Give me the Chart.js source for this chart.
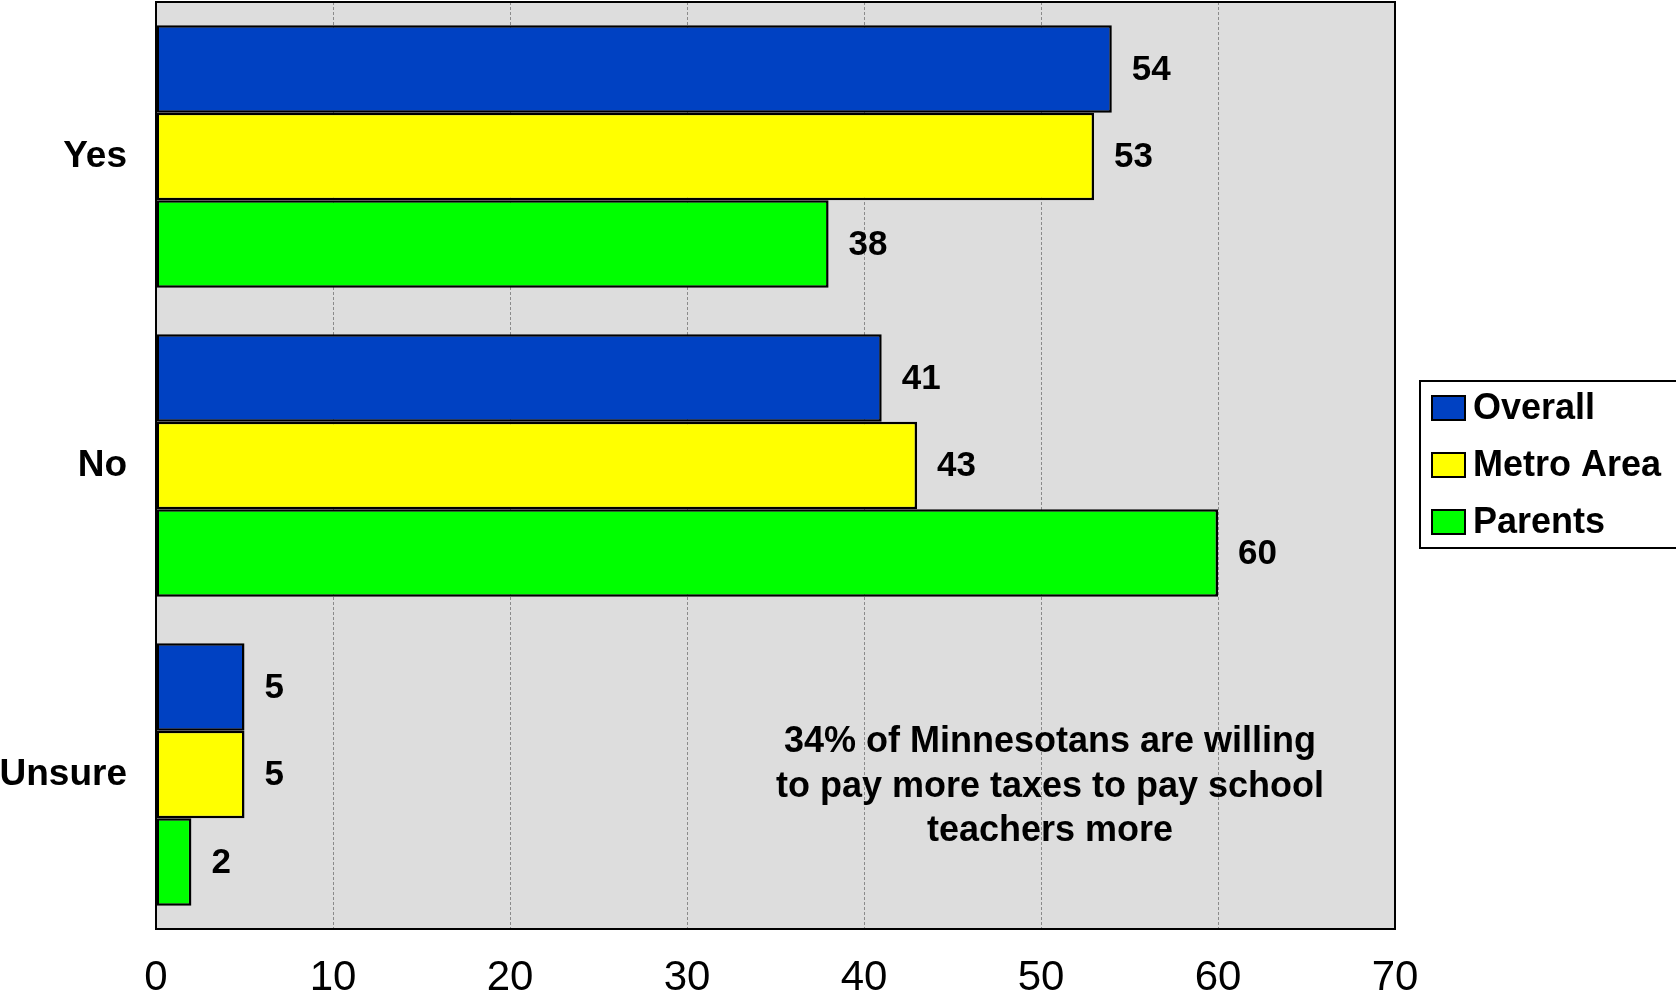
<!DOCTYPE html>
<html>
<head>
<meta charset="utf-8">
<script src="https://cdn.jsdelivr.net/npm/chart.js@4/dist/chart.umd.min.js"></script>
<style>
html,body{margin:0;padding:0;background:#fff;}
#wrap{width:1676px;height:994px;position:relative;}
</style>
</head>
<body>
<div id="wrap"><canvas id="c" width="1676" height="994"></canvas></div>
<script>
const categories = ["Yes", "No", "Unsure"];
const overall = [54, 41, 5];
const metroArea = [53, 43, 5];
const parents = [38, 60, 2];
const seriesNames = ["Overall", "Metro Area", "Parents"];
const seriesColors = ["#0041C2", "#FFFF00", "#00FF00"];
const xTicks = [0, 10, 20, 30, 40, 50, 60, 70];
const noteLines = ["34% of Minnesotans are willing", "to pay more taxes to pay school", "teachers more"];

const FONT = "'Liberation Sans', Arial, sans-serif";

const framePlugin = {
  id: 'frame',
  beforeDraw(chart) {
    const {ctx, chartArea: a} = chart;
    ctx.save();
    ctx.fillStyle = '#DDDDDD';
    ctx.fillRect(a.left, a.top, a.right - a.left, a.bottom - a.top);
    ctx.restore();
  },
  afterDraw(chart) {
    const {ctx, chartArea: a} = chart;
    ctx.save();
    ctx.strokeStyle = '#000';
    ctx.lineWidth = 2;
    ctx.strokeRect(a.left, a.top, a.right - a.left, a.bottom - a.top);
    // legend
    ctx.fillStyle = '#fff';
    ctx.fillRect(1420, 381, 270, 167);
    ctx.strokeRect(1420, 381, 270, 167);
    const rows = [408, 465, 522];
    ctx.font = "bold 36px " + FONT;
    ctx.textBaseline = 'middle';
    ctx.textAlign = 'left';
    seriesNames.forEach((n, i) => {
      ctx.fillStyle = seriesColors[i];
      ctx.fillRect(1432, rows[i] - 12, 33, 24);
      ctx.strokeStyle = '#000';
      ctx.lineWidth = 2;
      ctx.strokeRect(1432, rows[i] - 12, 33, 24);
      ctx.fillStyle = '#000';
      ctx.fillText(n, 1473, rows[i] + 1);
    });
    // annotation
    ctx.font = "bold 36px " + FONT;
    ctx.textAlign = 'center';
    const ly = [742, 787, 831];
    noteLines.forEach((t, i) => ctx.fillText(t, 1050, ly[i]));
    ctx.restore();
  },
  afterDatasetsDraw(chart) {
    const {ctx} = chart;
    ctx.save();
    ctx.font = "bold 35px " + FONT;
    ctx.fillStyle = '#000';
    ctx.textAlign = 'left';
    ctx.textBaseline = 'middle';
    chart.data.datasets.forEach((ds, di) => {
      const meta = chart.getDatasetMeta(di);
      meta.data.forEach((el, i) => {
        ctx.fillText(String(ds.data[i]), el.x + 20, el.y + 1);
      });
    });
    ctx.restore();
  }
};

new Chart(document.getElementById('c'), {
  type: 'bar',
  data: {
    labels: categories,
    datasets: [
      {label: seriesNames[0], data: overall, backgroundColor: seriesColors[0]},
      {label: seriesNames[1], data: metroArea, backgroundColor: seriesColors[1]},
      {label: seriesNames[2], data: parents, backgroundColor: seriesColors[2]}
    ].map(d => Object.assign(d, {borderColor: '#000', borderWidth: 2.5, borderSkipped: false, categoryPercentage: 0.85, barPercentage: 1.0}))
  },
  options: {
    indexAxis: 'y',
    responsive: false,
    animation: false,
    devicePixelRatio: 1,
    layout: {padding: {left: 0, right: 281, top: 2, bottom: 0}},
    plugins: {legend: {display: false}, tooltip: {enabled: false}},
    scales: {
      x: {
        min: 0, max: 70,
        afterBuildTicks(scale) { scale.ticks = xTicks.map(v => ({value: v})); },
        afterFit(scale) { scale.height = 994 - 927 - 2; },
        grid: {color: '#8a8a8a', lineWidth: 1, drawTicks: false},
        border: {display: false, dash: [3, 2]},
        ticks: {color: '#000', font: {family: FONT, size: 42}, padding: 24, maxRotation: 0, autoSkip: false}
      },
      y: {
        afterFit(scale) { scale.width = 156; scale.paddingTop = 0; scale.paddingBottom = 0; },
        grid: {display: false, drawTicks: false},
        border: {display: false},
        ticks: {color: '#000', font: {family: FONT, size: 37, weight: 'bold'}, padding: 29}
      }
    }
  },
  plugins: [framePlugin]
});
</script>
</body>
</html>
